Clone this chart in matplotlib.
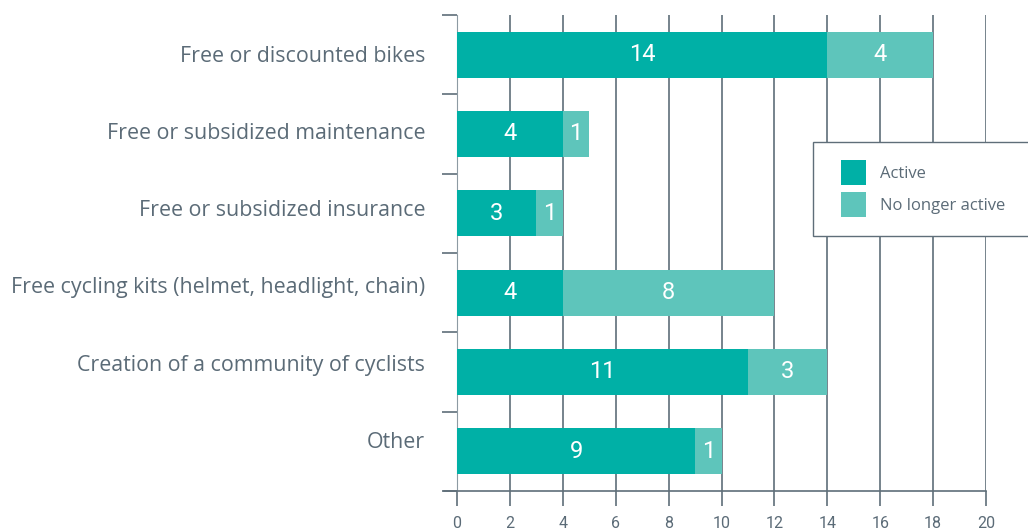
import matplotlib.pyplot as plt
import numpy as np
from matplotlib.patches import Rectangle

categories = [
    "Free or discounted bikes",
    "Free or subsidized maintenance",
    "Free or subsidized insurance",
    "Free cycling kits (helmet, headlight, chain)",
    "Creation of a community of cyclists",
    "Other",
]
active = [14, 4, 3, 4, 11, 9]
no_longer = [4, 1, 1, 8, 3, 1]
xticks = list(range(0, 21, 2))

c_active = "#00b0a6"
c_no = "#5ec5bb"
text_col = "#5b6b77"
grid_col = "#5f6e79"

plt.rcParams["font.family"] = ["Open Sans", "DejaVu Sans"]

W, H = 1028, 529
fig = plt.figure(figsize=(W / 100, H / 100), dpi=100)
ax = fig.add_axes([457 / W, 1 - 491 / H, 529 / W, 476 / H])

y = np.arange(len(categories))
ax.set_axisbelow(True)
b1 = ax.barh(y, active, height=0.58, color=c_active, label="Active", zorder=3)
b2 = ax.barh(y, no_longer, left=active, height=0.58, color=c_no,
             label="No longer active", zorder=3)

for vals, lefts in [(active, [0] * len(active)), (no_longer, active)]:
    for yi, v, l in zip(y, vals, lefts):
        ax.text(l + v / 2, yi, str(v), ha="center", va="center",
                color="white", fontsize=17, family="Roboto", zorder=4)

ax.set_xlim(0, 20)
ax.set_ylim(len(categories) - 0.5, -0.5)
ax.set_xticks(xticks)
ax.set_xticklabels([str(t) for t in xticks], family="Roboto")
ax.xaxis.grid(True, color=grid_col, linewidth=1.2)
ax.tick_params(axis="x", length=11, width=1.2, color=grid_col,
               labelcolor=text_col, labelsize=11.5, pad=7)

# category boundaries as ticks, labels sit slightly above bar centres
ax.set_yticks(np.arange(-0.5, len(categories), 1.0))
ax.set_yticklabels([])
ax.set_yticks(y * 0.973 - 0.01, minor=True)
ax.set_yticklabels(categories, minor=True)
ax.tick_params(axis="y", which="major", length=11, width=1.2, color=grid_col)
ax.tick_params(axis="y", which="minor", length=0, pad=23,
               labelcolor=text_col, labelsize=15.4)

for s in ["top", "right"]:
    ax.spines[s].set_visible(False)
ax.spines["left"].set_color("#8d9aa3")
ax.spines["bottom"].set_color(grid_col)
ax.spines["bottom"].set_linewidth(1.2)
ax.spines["bottom"].set_bounds(-0.5, 20)

# legend: content placed without frame, frame drawn as a box running off the right edge
leg = fig.legend(handles=[b1, b2], loc="upper left",
                 bbox_to_anchor=(841 / W, 1 - 160 / H), fontsize=12,
                 frameon=False, borderpad=0, borderaxespad=0,
                 handlelength=1.5, handleheight=1.93, handletextpad=0.85,
                 labelspacing=0.42, labelcolor=text_col)
fig.patches.append(Rectangle((813 / W, 1 - 236 / H), 240 / W, 94 / H,
                             transform=fig.transFigure, facecolor="white",
                             edgecolor=grid_col, linewidth=1.0, zorder=5))
leg.set_zorder(6)

fig.savefig("out.png", dpi=100)
